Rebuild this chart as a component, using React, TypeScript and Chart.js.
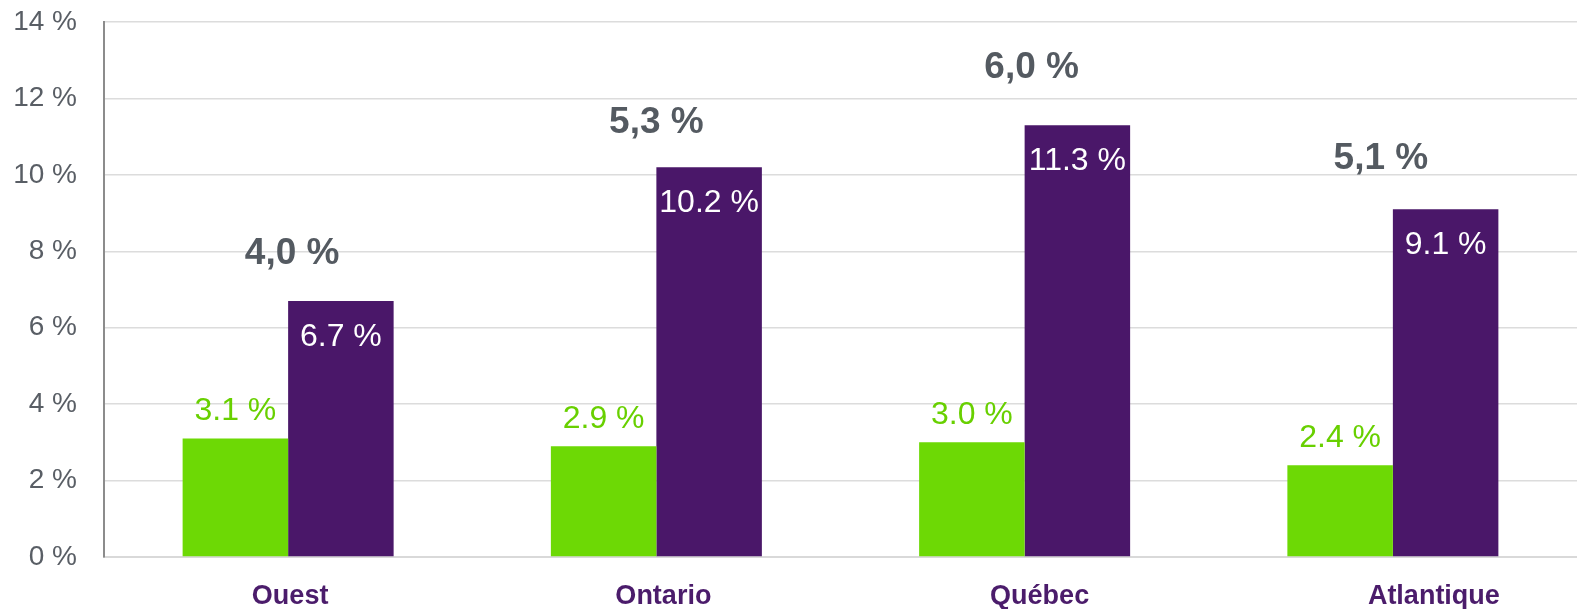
import React, { useEffect, useRef } from "react";
import { Chart, registerables } from "chart.js";

Chart.register(...registerables);

const categories = ["Ouest", "Ontario", "Québec", "Atlantique"];
const greenValues = [3.1, 2.9, 3.0, 2.4];
const purpleValues = [6.7, 10.2, 11.3, 9.1];
const totals = [4.0, 5.3, 6.0, 5.1];
const yTicks = [0, 2, 4, 6, 8, 10, 12, 14];

const GREEN = "#6DD905";
const GREEN_TEXT = "#68D000";
const PURPLE = "#4A1769";
const GRAY_TEXT = "#545A61";
const TICK_TEXT = "#595E65";
const CAT_TEXT = "#4B1C6B";
const FONT = "'Liberation Sans', Arial, sans-serif";

// small placement nudges of the captions, as in the reference
const CAT_SHIFT = [2, 7, 15, 41];
const TOTAL_DX = [4, 0, 7, -12];
const TOTAL_DY = [-47, -44, -57, -50];

const labelsPlugin = {
  id: "customLabels",
  afterDatasetsDraw(chart: any) {
    const ctx = chart.ctx;
    const g = chart.getDatasetMeta(0);
    const p = chart.getDatasetMeta(1);
    const xs = chart.scales.x;
    ctx.save();
    ctx.textAlign = "center";
    ctx.textBaseline = "middle";
    categories.forEach((cat, i) => {
      const gb = g.data[i];
      const pb = p.data[i];
      ctx.font = `32px ${FONT}`;
      ctx.fillStyle = GREEN_TEXT;
      ctx.fillText(`${greenValues[i].toFixed(1)} %`, gb.x, gb.y - 27);
      ctx.fillStyle = "#FFFFFF";
      ctx.fillText(`${purpleValues[i].toFixed(1)} %`, pb.x, pb.y + 36);
      ctx.font = `bold 37px ${FONT}`;
      ctx.fillStyle = GRAY_TEXT;
      const cx = xs.getPixelForValue(i);
      ctx.fillText(
        `${totals[i].toFixed(1).replace(".", ",")} %`,
        cx + TOTAL_DX[i],
        pb.y + TOTAL_DY[i]
      );
      ctx.font = `bold 27px ${FONT}`;
      ctx.fillStyle = CAT_TEXT;
      ctx.fillText(cat, cx + CAT_SHIFT[i], 597);
    });
    ctx.restore();
  },
};

export default function App() {
  const ref = useRef<HTMLCanvasElement | null>(null);
  useEffect(() => {
    document.body.style.margin = "0";
    const canvas = ref.current!;
    const chart = new Chart(canvas, {
      type: "bar",
      data: {
        labels: categories,
        datasets: [
          {
            data: greenValues,
            backgroundColor: GREEN,
            borderWidth: 0,
            categoryPercentage: 0.573,
            barPercentage: 1,
          },
          {
            data: purpleValues,
            backgroundColor: PURPLE,
            borderWidth: 0,
            categoryPercentage: 0.573,
            barPercentage: 1,
          },
        ],
      },
      options: {
        animation: false,
        responsive: false,
        maintainAspectRatio: false,
        layout: { padding: { top: 22, left: 0, right: 0, bottom: 0 } },
        plugins: {
          legend: { display: false },
          tooltip: { enabled: false },
        },
        scales: {
          x: {
            grid: { display: false, drawTicks: false },
            border: { display: true, color: "#D9D9D9", width: 2 },
            ticks: { display: false },
            afterFit: (s: any) => {
              s.height = 52;
            },
          },
          y: {
            min: 0,
            max: 14,
            afterBuildTicks: (s: any) => {
              s.ticks = yTicks.map((v) => ({ value: v }));
            },
            grid: {
              color: "#DCDCDC",
              lineWidth: 1.5,
              drawTicks: true,
              tickLength: 27,
              tickColor: "rgba(0,0,0,0)",
            },
            border: { display: true, color: "#8C8C8C", width: 2 },
            ticks: {
              padding: 0,
              color: TICK_TEXT,
              font: { family: FONT, size: 28 },
              callback: (v: any) => `${v} %`,
            },
            afterFit: (s: any) => {
              s.width = 104;
            },
          },
        },
      },
      plugins: [labelsPlugin],
    });
    return () => chart.destroy();
  }, []);
  return (
    <div style={{ width: 1577, height: 609, background: "#fff" }}>
      <canvas ref={ref} width={1577} height={609} style={{ display: "block" }} />
    </div>
  );
}
